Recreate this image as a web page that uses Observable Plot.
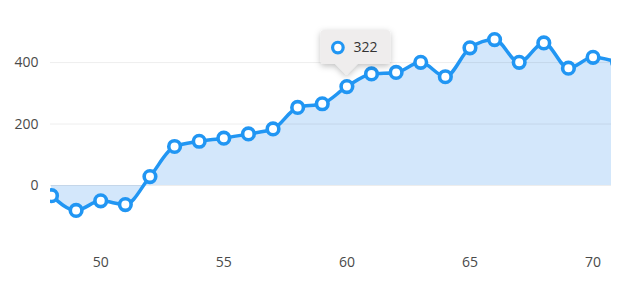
<!DOCTYPE html>
<html><head><meta charset="utf-8">
<script src="https://cdn.jsdelivr.net/npm/d3@7"></script>
<script src="https://cdn.jsdelivr.net/npm/@observablehq/plot@0.6"></script>
<style>body{margin:0;background:#fff;}</style>
</head><body><div id="chart"></div>
<script>
const xs = [48,49,50,51,52,53,54,55,56,57,58,59,60,61,62,63,64,65,66,67,68,69,70,71];
const values = [-33,-81,-50,-62,29,127,144,154,168,184,254,266,322,363,368,401,354,448,475,401,464,382,417,401];
const xTicks = [50,55,60,65,70];
const yTicks = [0,200,400];
const tipX = 60;

const data = xs.map((x, i) => ({x, y: values[i]}));
const blue = "#2196f3";
const font = "'Open Sans', 'Noto Sans', sans-serif";

const plot = Plot.plot({
  width: 624, height: 281,
  marginLeft: 50, marginRight: 13, marginTop: 20, marginBottom: 41,
  style: {fontFamily: font, fontSize: "14px", color: "#4a4a4a", background: "#fff"},
  x: {domain: [47.96, 70.75]},
  y: {domain: [-179, 537]},
  marks: [
    Plot.areaY(data, {x: "x", y: "y", fill: "#d3e7fb", curve: "monotone-x", clip: true}),
    Plot.gridY(yTicks, {stroke: "#000", strokeOpacity: 0.07, strokeWidth: 1}),
    Plot.lineY(data, {x: "x", y: "y", stroke: blue, strokeWidth: 3.5, curve: "monotone-x", clip: true}),
    Plot.dot(data, {x: "x", y: "y", r: 5.8, fill: "#fff", stroke: blue, strokeWidth: 3.6, clip: true}),
    Plot.axisX({ticks: xTicks, tickSize: 0, tickPadding: 17, label: null, fill: "#4a4a4a"}),
    Plot.axisY({ticks: yTicks, tickSize: 0, tickPadding: 12, label: null, fill: "#4a4a4a"})
  ]
});
document.getElementById("chart").appendChild(plot);

// tooltip placed through the plot's scales
(function () {
  const d = data.find(r => r.x === tipX);
  const px = plot.scale("x").apply(d.x);
  const py = plot.scale("y").apply(d.y);
  const svg = d3.select(plot);
  const defs = svg.append("defs");
  const f = defs.append("filter").attr("id", "tipShadow").attr("x", "-30%").attr("y", "-40%").attr("width", "160%").attr("height", "190%");
  f.append("feDropShadow").attr("dx", 0).attr("dy", 2).attr("stdDeviation", 3).attr("flood-color", "#000").attr("flood-opacity", 0.25);

  const tipY = py - 11;
  const bh = 34, pw = 11, ph = 11, bl = 26, br = 44, rr = 4;
  const bBottom = tipY - ph, bTop = bBottom - bh, bLeft = px - bl, bRight = px + br;
  const path = `M${px},${tipY} L${px - pw},${bBottom} L${bLeft + rr},${bBottom} Q${bLeft},${bBottom} ${bLeft},${bBottom - rr} L${bLeft},${bTop + rr} Q${bLeft},${bTop} ${bLeft + rr},${bTop} L${bRight - rr},${bTop} Q${bRight},${bTop} ${bRight},${bTop + rr} L${bRight},${bBottom - rr} Q${bRight},${bBottom} ${bRight - rr},${bBottom} L${px + pw},${bBottom} Z`;
  const g = svg.append("g");
  g.append("path").attr("d", path).attr("fill", "#efeded").attr("filter", "url(#tipShadow)");
  g.append("circle").attr("cx", bLeft + 17.5).attr("cy", bTop + 17.5).attr("r", 5.3)
    .attr("fill", "#fff").attr("stroke", blue).attr("stroke-width", 3.2);
  g.append("text").attr("x", bLeft + 33).attr("y", bTop + 17.5).attr("dy", "0.35em")
    .attr("text-anchor", "start")
    .attr("fill", "#333").attr("font-size", 14).attr("font-family", font).text(String(d.y));
})();
</script>
</body></html>
